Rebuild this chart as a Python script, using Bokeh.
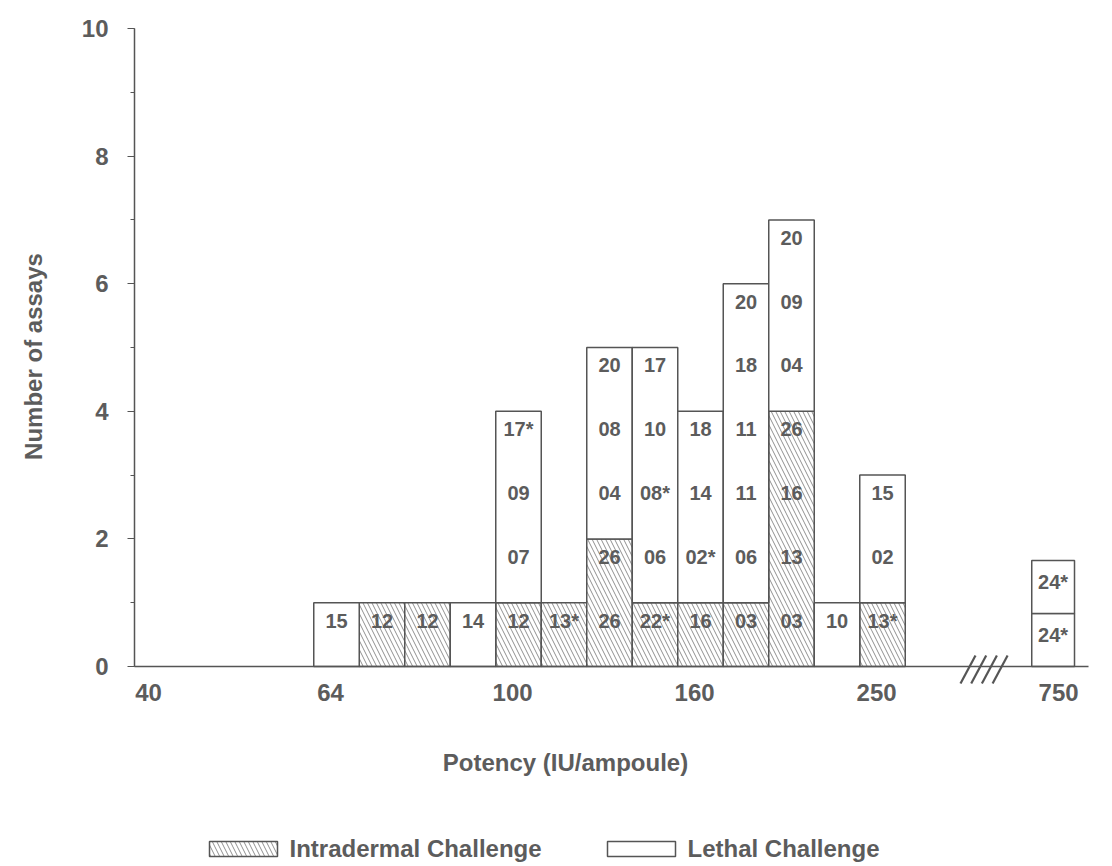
import math

from bokeh.plotting import figure
from bokeh.models import Range1d, FixedTicker, SingleIntervalTicker
from bokeh.core.properties import value
from bokeh.embed import file_html
from bokeh.resources import INLINE

# Potency tick labels (IU/ampoule); bins are quarter steps between ticks
potency_ticks = ["40", "64", "100", "160", "250", "750"]

# Laboratory codes in each potency bin, from 64 up to 250 IU/ampoule
intradermal = [[], ["12"], ["12"], [], ["12"], ["13*"], ["26", "26"], ["22*"],
               ["16"], ["03"], ["03", "13", "16", "26"], [], ["13*"]]
lethal = [["15"], [], [], ["14"], ["07", "09", "17*"], [], ["04", "08", "20"],
          ["06", "08*", "10", "17"], ["02*", "14", "18"],
          ["06", "11", "11", "18", "20"], ["04", "09", "20"], ["10"], ["02", "15"]]

# Beyond the axis break
lethal_750 = ["24*", "24*"]

legend_names = ["Intradermal Challenge", "Lethal Challenge"]

FONT = value("Liberation Sans")
TEXT = "#5c5c5c"
LINE = "#555555"
HATCH = "#909090"

FIRST_SLOT = 4          # bin of 64 IU/ampoule (40 sits at 0)
SLOT_750 = 19.75        # bin position after the break
UNIT_750 = 0.83         # height of one assay box after the break
tick_pos = [4 * i - 0.13 for i in range(5)] + [SLOT_750 + 0.12]

# page geometry: one bin is 45.5 px wide, one assay 63.8 px tall
W, H = 1112, 866
BIN_PX, UNIT_PX = 45.5, 63.8
X0_PX, Y0_PX = 154, 666          # page position of bin 0 / count 0
AXIS_X_PX, AXIS_END_PX = 134, 1088


def gx(px):
    return (px - X0_PX) / BIN_PX


def gy(py):
    return (Y0_PX - py) / UNIT_PX


intra_box = dict(left=[], right=[], bottom=[], top=[])
leth_box = dict(left=[], right=[], bottom=[], top=[])
lab = dict(x=[], y=[], text=[])

for i, (grp_i, grp_l) in enumerate(zip(intradermal, lethal)):
    s = FIRST_SLOT + i
    base = 0
    for grp, store in ((grp_i, intra_box), (grp_l, leth_box)):
        if not grp:
            continue
        store["left"].append(s - 0.5)
        store["right"].append(s + 0.5)
        store["bottom"].append(base)
        store["top"].append(base + len(grp))
        for k, code in enumerate(grp):
            lab["x"].append(s)
            lab["y"].append(base + k + 0.72)
            lab["text"].append(code)
        base += len(grp)

for k, code in enumerate(lethal_750):
    leth_box["left"].append(SLOT_750 - 0.47)
    leth_box["right"].append(SLOT_750 + 0.47)
    leth_box["bottom"].append(k * UNIT_750)
    leth_box["top"].append((k + 1) * UNIT_750)
    lab["x"].append(SLOT_750)
    lab["y"].append((k + 0.6) * UNIT_750)
    lab["text"].append(code)

p = figure(width=W, height=H, output_backend="svg", toolbar_location=None,
           x_range=Range1d(gx(0), gx(W)), y_range=Range1d(gy(H), gy(0)),
           min_border=0)
p.background_fill_color = "white"
p.border_fill_color = "white"
p.outline_line_color = None
p.xgrid.visible = False
p.ygrid.visible = False

hatch = dict(hatch_pattern="\\", hatch_color=HATCH, hatch_scale=9, hatch_weight=1)
p.quad(**intra_box, fill_color="white", line_color=LINE, line_width=1.5, **hatch)
p.quad(**leth_box, fill_color="white", line_color=LINE, line_width=1.5)

p.text(x=lab["x"], y=lab["y"], text=lab["text"], text_font=FONT,
       text_font_style="bold", text_font_size="20px", text_color=TEXT,
       text_align="center", text_baseline="middle")

# axis break marks
brk_x = [gx(960 + 10.7 * j) for j in range(4)]
p.segment(x0=brk_x, y0=[gy(683)] * 4, x1=[x + gx(975) - gx(960) for x in brk_x],
          y1=[gy(655)] * 4, line_color=LINE, line_width=2.2)

# x axis pinned at zero count
xa = p.xaxis[0]
xa.fixed_location = 0
xa.bounds = (gx(AXIS_X_PX), gx(AXIS_END_PX))
xa.ticker = FixedTicker(ticks=tick_pos)
xa.major_label_overrides = {t: lbl for t, lbl in zip(tick_pos, potency_ticks)}
xa.major_tick_out = 0
xa.major_tick_in = 0
xa.minor_tick_out = 0
xa.minor_tick_in = 0
xa.axis_line_color = LINE
xa.axis_line_width = 1.5
xa.major_label_standoff = 17
xa.major_label_text_font = "Liberation Sans"
xa.major_label_text_font_style = "bold"
xa.major_label_text_font_size = "24px"
xa.major_label_text_color = TEXT

# y axis pinned at the left edge of the bins
ya = p.yaxis[0]
ya.fixed_location = gx(AXIS_X_PX)
ya.bounds = (0, 10)
ya.ticker = SingleIntervalTicker(interval=2, num_minor_ticks=2)
ya.major_tick_out = 7
ya.major_tick_in = 0
ya.minor_tick_out = 4
ya.minor_tick_in = 0
ya.major_tick_line_color = LINE
ya.minor_tick_line_color = LINE
ya.axis_line_color = LINE
ya.axis_line_width = 1.5
ya.major_label_standoff = 19
ya.major_label_text_font = "Liberation Sans"
ya.major_label_text_font_style = "bold"
ya.major_label_text_font_size = "24px"
ya.major_label_text_color = TEXT

# axis titles
p.text(x=[gx(565)], y=[gy(762)], text=["Potency (IU/ampoule)"], text_font=FONT,
       text_font_style="bold", text_font_size="24px", text_color=TEXT,
       text_align="center", text_baseline="middle")
p.text(x=[gx(33)], y=[gy(356)], text=["Number of assays"], angle=math.pi / 2,
       text_font=FONT, text_font_style="bold", text_font_size="24px",
       text_color=TEXT, text_align="center", text_baseline="middle")

# legend
p.quad(left=[gx(209)], right=[gx(277)], top=[gy(841)], bottom=[gy(856)],
       fill_color="white", line_color=LINE, line_width=1.5, **hatch)
p.quad(left=[gx(607)], right=[gx(675)], top=[gy(841)], bottom=[gy(856)],
       fill_color="white", line_color=LINE, line_width=1.5)
p.text(x=[gx(289), gx(687)], y=[gy(848)] * 2, text=legend_names, text_font=FONT,
       text_font_style="bold", text_font_size="24px", text_color=TEXT,
       text_align="left", text_baseline="middle")

open("out.html", "w").write(file_html(p, INLINE))
